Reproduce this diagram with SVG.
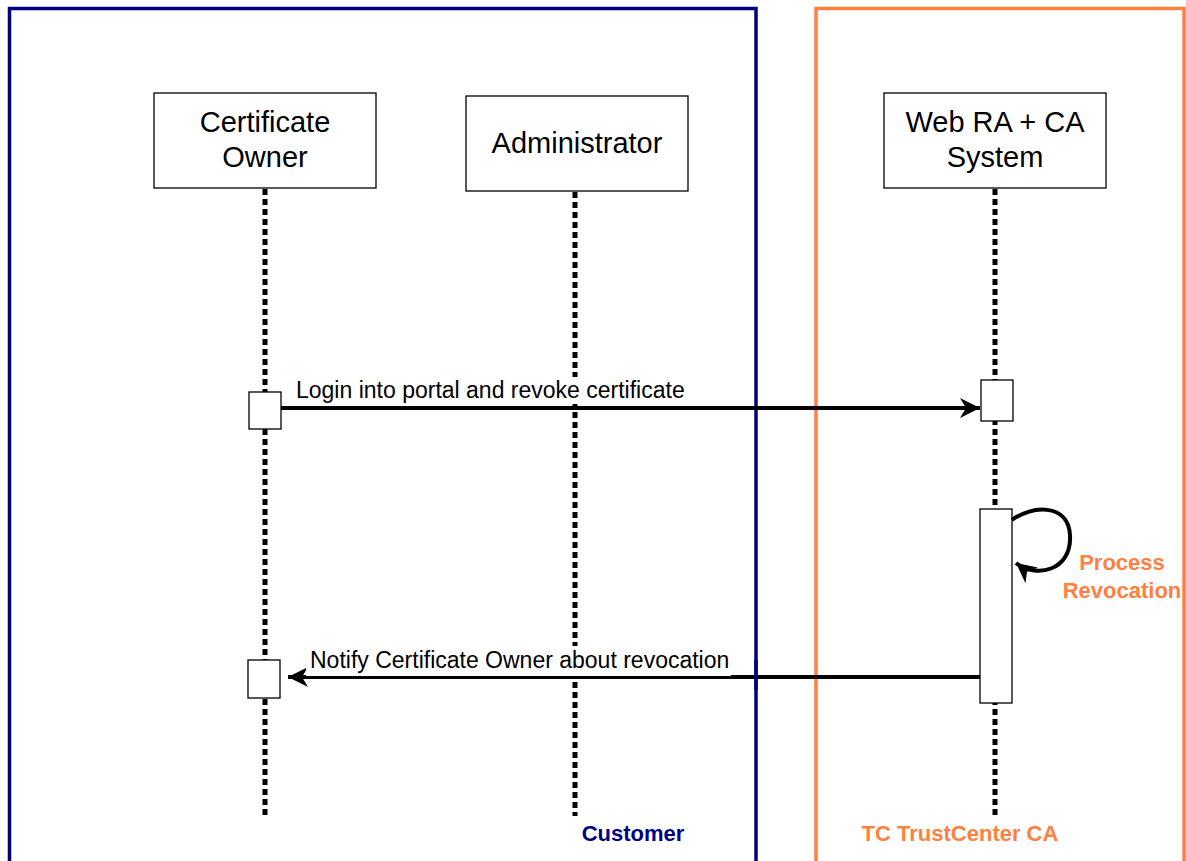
<svg xmlns="http://www.w3.org/2000/svg" width="1186" height="861" viewBox="0 0 1186 861">
<style>
.box{fill:#fff;stroke:#000;stroke-width:1.3}
.act{fill:#fff;stroke:#000;stroke-width:1.3}
.life{stroke:#000;stroke-width:5;stroke-dasharray:6,4;fill:none}
.title{font-family:"Liberation Sans",Arial,sans-serif;font-size:29px;fill:#000;text-anchor:middle}
.lbl{font-family:"Liberation Sans",Arial,sans-serif;font-size:23px;fill:#000}
.msg{stroke:#000;stroke-width:4;fill:none}
.bg{fill:#fff;stroke:none}
.bold{font-family:"Liberation Sans",Arial,sans-serif;font-size:22px;font-weight:bold}
</style>
<defs>
<marker id="ah" viewBox="0 0 10 10" refX="10" refY="5" markerWidth="5" markerHeight="5" markerUnits="strokeWidth" orient="auto">
<path d="M0,0 L10,5 L0,10 L3,5 z" fill="#000"/>
</marker>
</defs>
<rect width="1186" height="861" fill="#fff"/>
<g id="frame-customer">
<rect x="9.5" y="8.5" width="746.5" height="900" fill="none" stroke="#000080" stroke-width="3.5"/>
<text class="bold" x="633" y="841" text-anchor="middle" fill="#000080">Customer</text>
</g>
<g id="frame-tc">
<rect x="816" y="8.5" width="368" height="900" fill="none" stroke="#FF8040" stroke-width="3.5"/>
<text class="bold" x="960" y="841" text-anchor="middle" fill="#FF8040">TC TrustCenter CA</text>
</g>
<g id="lifelines">
<line class="life" x1="265" y1="189" x2="265" y2="816"/>
<line class="life" x1="575" y1="192" x2="575" y2="816"/>
<line class="life" x1="995" y1="189" x2="995" y2="816"/>
</g>
<g id="node-owner">
<rect class="box" x="154" y="93" width="222" height="95"/>
<text class="title" x="265" y="132">Certificate</text>
<text class="title" x="265" y="167">Owner</text>
</g>
<g id="node-admin">
<rect class="box" x="466" y="96" width="222" height="95"/>
<text class="title" x="577" y="153">Administrator</text>
</g>
<g id="node-system">
<rect class="box" x="884" y="93" width="222" height="95"/>
<text class="title" x="995" y="132">Web RA + CA</text>
<text class="title" x="995" y="167">System</text>
</g>
<g id="activations">
<rect class="act" x="249" y="392" width="32" height="37"/>
<rect class="act" x="981" y="380" width="32" height="41"/>
<rect class="act" x="980" y="509" width="32" height="194"/>
<rect class="act" x="248" y="660" width="32" height="38"/>
</g>
<g id="connectors">
<rect class="bg" x="293" y="377" width="394" height="27"/>
<line class="msg" x1="281" y1="408" x2="980" y2="408" marker-end="url(#ah)"/>
<text class="lbl" x="296" y="398">Login into portal and revoke certificate</text>
<path class="msg" d="M1012,520 C1030,506 1068,502 1070,535 C1072,572 1035,578 1016,563" marker-end="url(#ah)"/>
<text class="bold" x="1122" y="570" text-anchor="middle" fill="#FF8040">Process</text>
<text class="bold" x="1122" y="598" text-anchor="middle" fill="#FF8040">Revocation</text>
<line class="msg" x1="980" y1="677" x2="288" y2="677" marker-end="url(#ah)"/>
<rect class="bg" x="306" y="646" width="425" height="30"/>
<line stroke="#000080" stroke-width="3.5" x1="756" y1="660" x2="756" y2="690"/>
<text class="lbl" x="310" y="668">Notify Certificate Owner about revocation</text>
</g>
</svg>
